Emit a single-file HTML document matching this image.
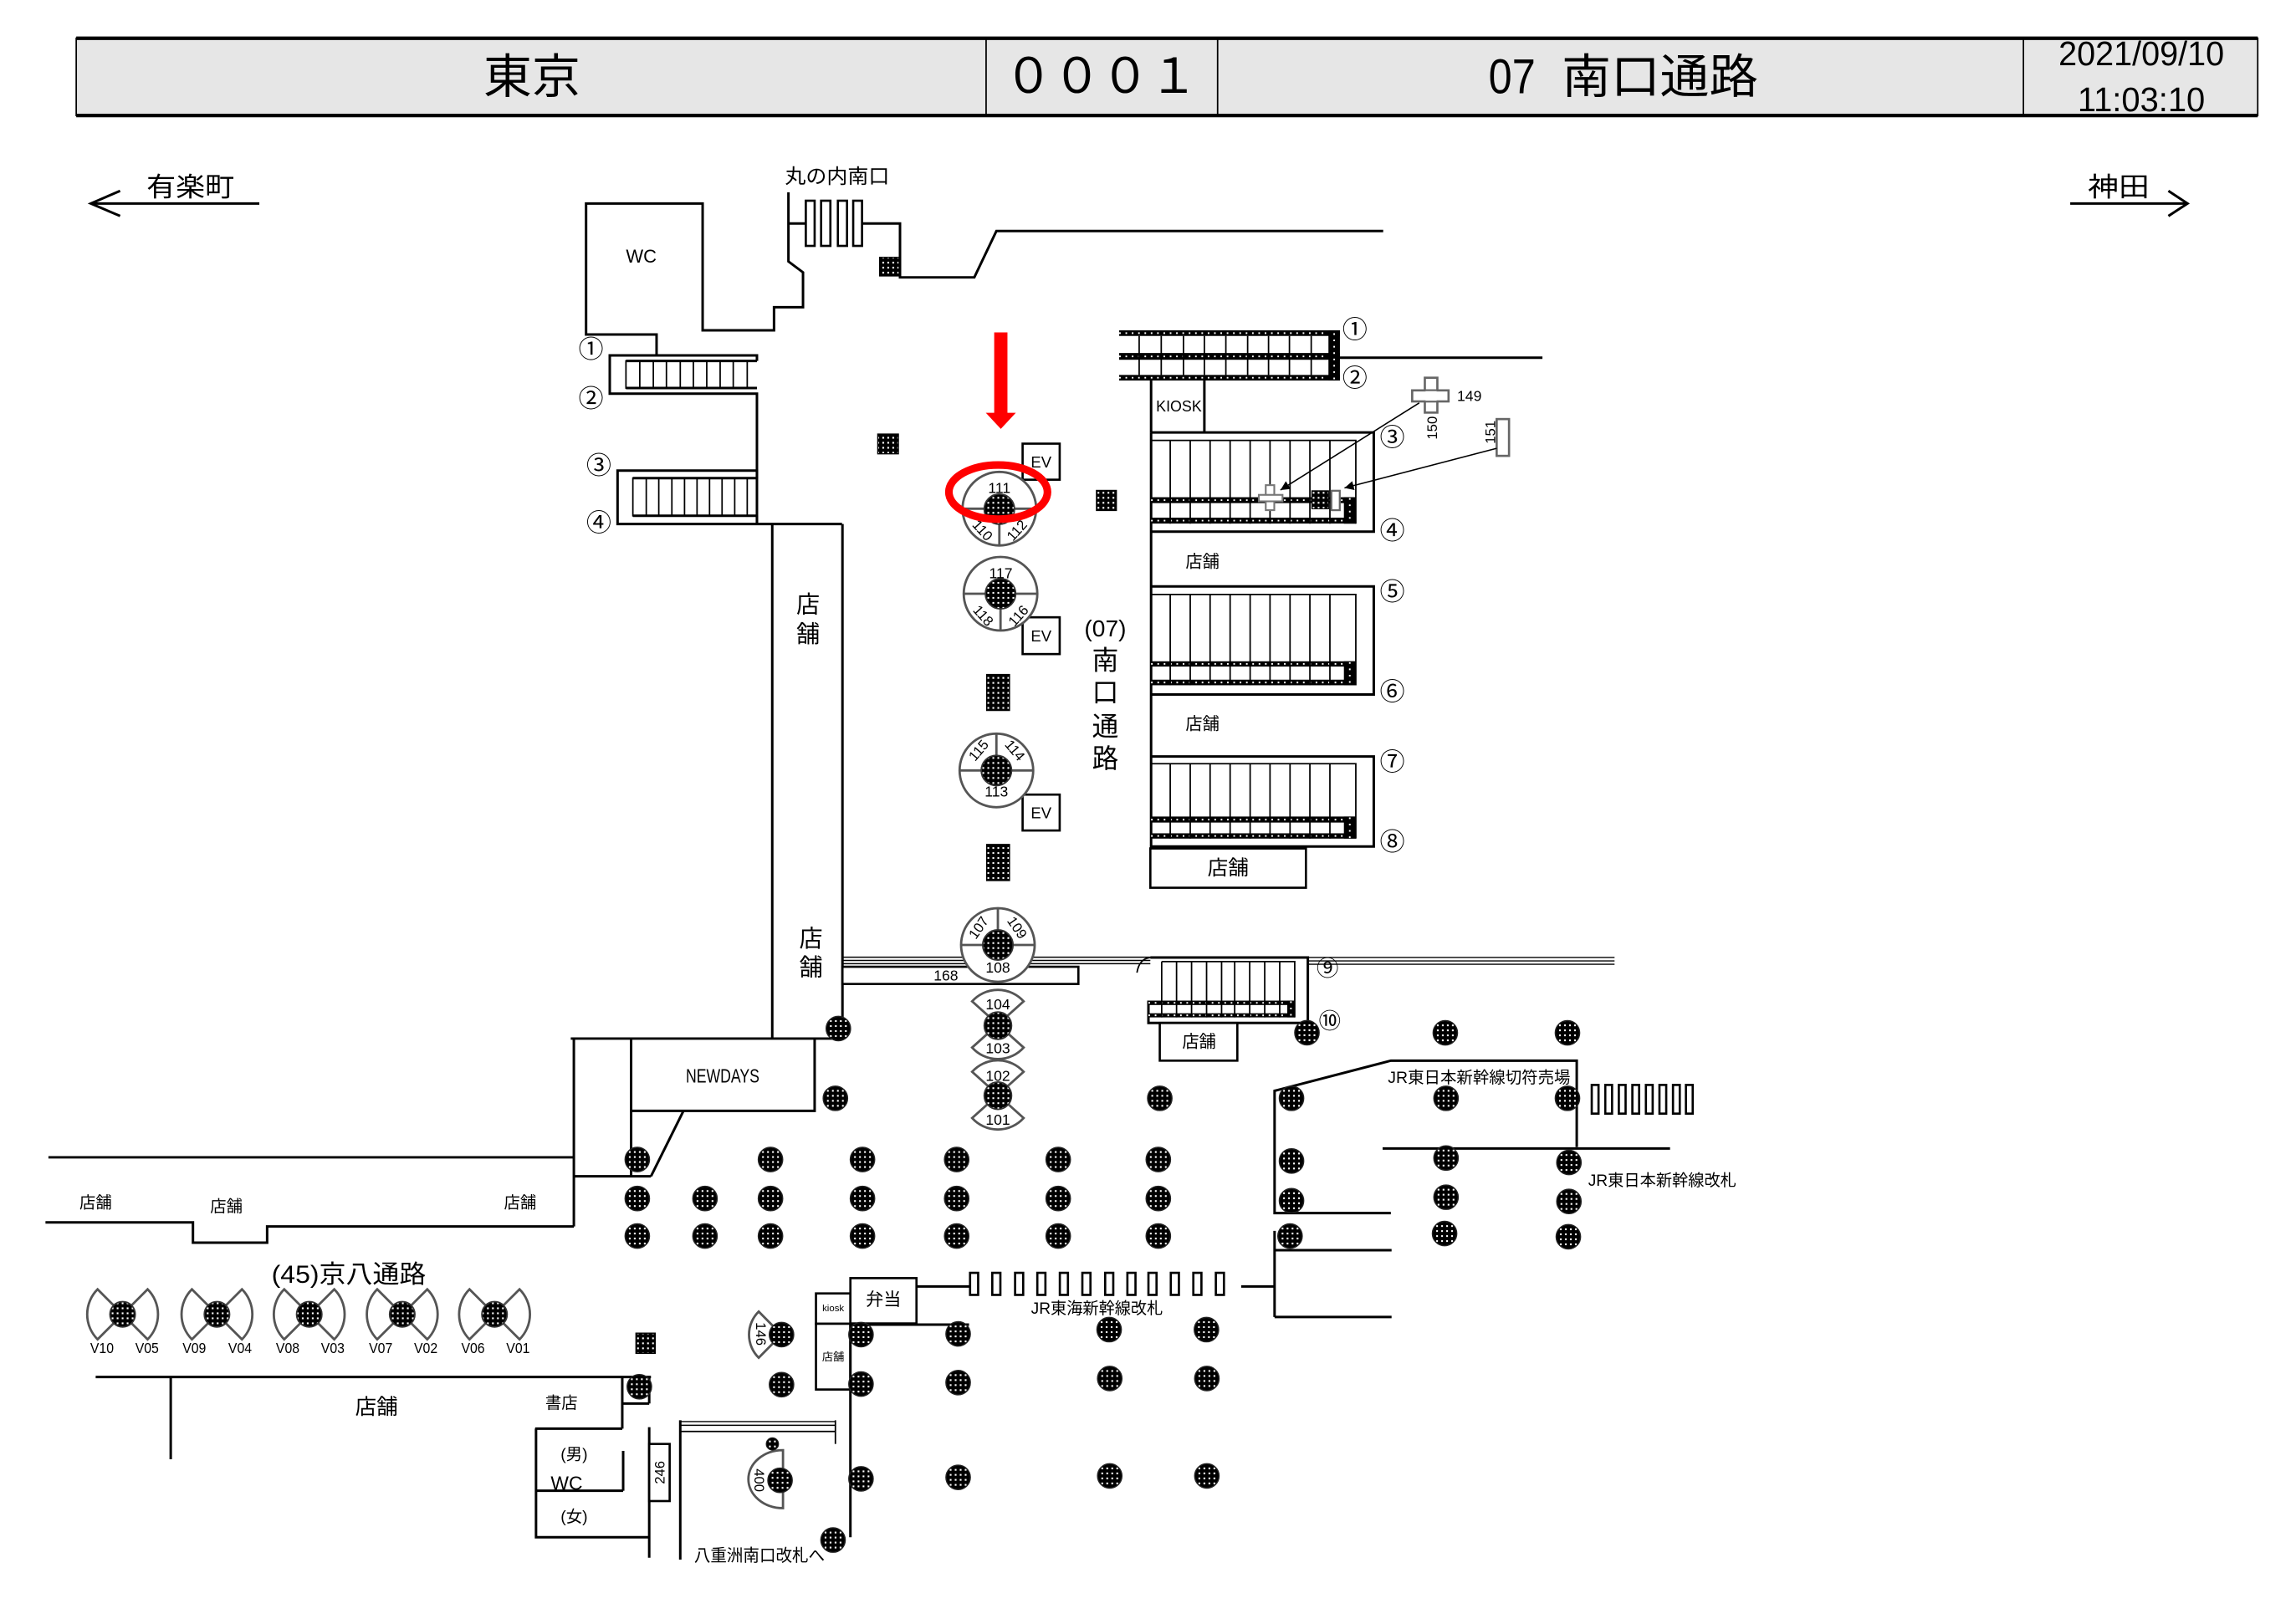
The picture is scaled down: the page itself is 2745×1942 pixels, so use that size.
<!DOCTYPE html>
<html><head><meta charset="utf-8"><style>
html,body{margin:0;padding:0;background:#fff;}
svg{display:block;}
.l{stroke:#000;stroke-width:1.7;fill:none;}
.t{stroke:#000;stroke-width:1;fill:none;}
.th{stroke:#000;stroke-width:0.8;fill:none;}
.g{stroke:#555;stroke-width:1.6;fill:#fff;}
.bx{stroke:#000;stroke-width:1.5;fill:#fff;}
text{font-family:"Liberation Sans","Noto Sans CJK JP",sans-serif;fill:#000;}
.c{text-anchor:middle;dominant-baseline:central;}
.band{fill:#000;}
.dots{stroke:#fff;stroke-width:1.1;stroke-dasharray:1.1 3.2;fill:none;}
</style></head><body>
<svg xmlns="http://www.w3.org/2000/svg" width="2745" height="1942" viewBox="0 0 1560 1103.65" preserveAspectRatio="none">
<defs>
<pattern id="dp" width="3.4" height="3.4" patternUnits="userSpaceOnUse"><rect width="3.4" height="3.4" fill="#000"/><rect x="1.1" y="1.1" width="1.2" height="1.2" fill="#fff"/></pattern>
<circle id="p" r="8.3" fill="url(#dp)" stroke="#222" stroke-width="0.8"/>
<circle id="ps" r="4.2" fill="url(#dp)" stroke="#222" stroke-width="0.6"/>
<marker id="ah" viewBox="0 0 10 10" refX="10" refY="5" markerWidth="7" markerHeight="7" orient="auto"><path d="M0,0 L10,5 L0,10z" fill="#000"/></marker>
</defs>
<rect width="1560" height="1103.65" fill="#fff"/>

<!-- HEADER -->
<rect x="51.8" y="26" width="1482.2" height="52.5" fill="#e6e6e6" stroke="#000" stroke-width="1"/>
<line x1="51.8" y1="26" x2="1534" y2="26" stroke="#000" stroke-width="2.4"/>
<line x1="51.8" y1="78.5" x2="1534" y2="78.5" stroke="#000" stroke-width="2.4"/>
<line x1="670" y1="26" x2="670" y2="78.5" stroke="#000" stroke-width="1"/>
<line x1="827.3" y1="26" x2="827.3" y2="78.5" stroke="#000" stroke-width="1"/>
<line x1="1374.8" y1="26" x2="1374.8" y2="78.5" stroke="#000" stroke-width="1"/>
<text x="361.4" y="52" class="c" font-size="32" textLength="66" lengthAdjust="spacingAndGlyphs">東京</text>
<text x="698.8" y="52" class="c" font-size="33">０</text>
<text x="731.7" y="52" class="c" font-size="33">０</text>
<text x="764.5" y="52" class="c" font-size="33">０</text>
<text x="797.4" y="52" class="c" font-size="33">１</text>
<text x="1011.4" y="63.5" font-size="33" textLength="31.9" lengthAdjust="spacingAndGlyphs">07</text>
<text x="1061.2" y="52" font-size="32" dominant-baseline="central" textLength="133.4" lengthAdjust="spacingAndGlyphs">南口通路</text>
<text x="1398.7" y="44.3" font-size="23" textLength="112.5" lengthAdjust="spacingAndGlyphs">2021/09/10</text>
<text x="1411.6" y="75.5" font-size="23" textLength="86.6" lengthAdjust="spacingAndGlyphs">11:03:10</text>

<!-- direction arrows -->
<polyline class="l" points="81.6,129.7 61.7,138.3 81.6,146.8"/>
<line class="l" x1="61.7" y1="138.3" x2="176.2" y2="138.3"/>
<text x="99.5" y="127" font-size="18" dominant-baseline="central" textLength="59.7" lengthAdjust="spacingAndGlyphs">有楽町</text>
<polyline class="l" points="1473.3,129.7 1486.3,138.3 1473.3,146.8"/>
<line class="l" x1="1406.6" y1="138.3" x2="1486.3" y2="138.3"/>
<text x="1418.6" y="127" font-size="18" dominant-baseline="central" textLength="41.8" lengthAdjust="spacingAndGlyphs">神田</text>

<!-- top left structures -->
<text x="568.8" y="120.3" class="c" font-size="13.5" textLength="71" lengthAdjust="spacingAndGlyphs">丸の内南口</text>
<polyline class="l" points="446.1,241.5 446.1,227.3 398.2,227.3 398.2,138.3 477.4,138.3 477.4,224.5 525.9,224.5 525.9,208.8 545.6,208.8 545.6,185.1 535.7,177.7 535.7,130.7"/>
<text x="435.7" y="174.3" class="c" font-size="12.5">WC</text>
<line class="l" x1="535.7" y1="151.9" x2="547.5" y2="151.9"/>
<rect class="bx" x="547.5" y="136.4" width="6" height="30.7"/>
<rect class="bx" x="557.9" y="136.4" width="6.3" height="30.7"/>
<rect class="bx" x="569.3" y="136.4" width="6.2" height="30.7"/>
<rect class="bx" x="579.7" y="136.4" width="6" height="30.7"/>
<polyline class="l" points="585.7,151.9 611.5,151.9 611.5,188.5 662,188.5 677,157 939.8,157"/>
<rect x="597.7" y="174.9" width="13.2" height="12.6" fill="url(#dp)" stroke="#000" stroke-width=".8"/>
<rect x="596.4" y="295" width="14" height="13.4" fill="url(#dp)" stroke="#000" stroke-width=".8"/>

<!-- left stairs 1-2 -->
<polyline class="l" points="514.3,245.3 514.3,241.5 414.3,241.5 414.3,267.5 514.3,267.5 514.3,356.1"/>
<line class="l" x1="425.3" y1="245.3" x2="514.3" y2="245.3"/>
<line class="l" x1="425.3" y1="263.7" x2="514.3" y2="263.7"/>
<rect class="t" x="425.3" y="245.3" width="82.4" height="18.4"/>
<path class="t" d="M434.7,245.3V263.7M443.9,245.3V263.7M452.8,245.3V263.7M462.2,245.3V263.7M471.1,245.3V263.7M480.2,245.3V263.7M489.3,245.3V263.7M498.2,245.3V263.7"/>
<!-- left stairs 3-4 -->
<polyline class="l" points="514.3,324.9 514.3,319.8 419.6,319.8 419.6,356.1 572.1,356.1"/>
<line class="l" x1="430" y1="324.9" x2="514.3" y2="324.9"/>
<line class="l" x1="430" y1="350.5" x2="514.3" y2="350.5"/>
<line class="l" x1="514.3" y1="350.5" x2="514.3" y2="356.1"/>
<rect class="t" x="430" y="324.9" width="77.7" height="25.6"/>
<path class="t" d="M439.1,324.9V350.5M447.6,324.9V350.5M456.5,324.9V350.5M465.1,324.9V350.5M473.6,324.9V350.5M482.1,324.9V350.5M490.6,324.9V350.5M499.2,324.9V350.5"/>
<text x="401.6" y="237.8" class="c" font-size="17">①</text>
<text x="401.6" y="271.5" class="c" font-size="17">②</text>
<text x="406.9" y="316.9" class="c" font-size="17">③</text>
<text x="406.9" y="355.8" class="c" font-size="17">④</text>

<!-- shop column -->
<line class="l" x1="524.7" y1="356.1" x2="524.7" y2="705.8"/>
<line class="l" x1="572.4" y1="356.1" x2="572.4" y2="705.8"/>
<text x="549" y="411" class="c" font-size="16">店</text>
<text x="549" y="431" class="c" font-size="16">舗</text>
<text x="551" y="638" class="c" font-size="16">店</text>
<text x="551" y="657.5" class="c" font-size="16">舗</text>

<!-- red arrow -->
<rect x="675.5" y="225.9" width="9" height="56" fill="#f00"/>
<polygon points="669.8,280.5 690.2,280.5 680,291.5" fill="#f00"/>

<!-- EV boxes -->
<rect class="bx" x="694.8" y="301.5" width="25.2" height="24.5"/>
<text x="707.4" y="314" class="c" font-size="10.5">EV</text>
<rect class="bx" x="694.8" y="419.5" width="25.2" height="25"/>
<text x="707.4" y="432.3" class="c" font-size="10.5">EV</text>
<rect class="bx" x="694.8" y="540" width="25.2" height="24.4"/>
<text x="707.4" y="552.5" class="c" font-size="10.5">EV</text>

<!-- circle pillar 111 -->
<circle class="g" cx="679" cy="345.7" r="25"/>
<line stroke="#555" stroke-width="1.6" x1="654" y1="345.7" x2="704" y2="345.7"/>
<line stroke="#555" stroke-width="1.6" x1="679" y1="345.7" x2="679" y2="370.7"/>
<circle cx="679" cy="346" r="10.3" fill="url(#dp)" stroke="#333" stroke-width="1"/>
<text x="679" y="331.5" class="c" font-size="10">111</text>
<text x="667.5" y="360.5" class="c" font-size="9.5" transform="rotate(48 667.5 360.5)">110</text>
<text x="691" y="360.5" class="c" font-size="9.5" transform="rotate(-48 691 360.5)">112</text>
<ellipse cx="678.2" cy="334.4" rx="33.5" ry="18.4" fill="none" stroke="#f00" stroke-width="5.2"/>

<!-- circle pillar 117 -->
<circle class="g" cx="679.8" cy="403.5" r="25"/>
<line stroke="#555" stroke-width="1.6" x1="654.8" y1="403.5" x2="704.8" y2="403.5"/>
<line stroke="#555" stroke-width="1.6" x1="679.8" y1="403.5" x2="679.8" y2="428.5"/>
<circle cx="679.8" cy="403.5" r="10.3" fill="url(#dp)" stroke="#333" stroke-width="1"/>
<text x="680" y="389.5" class="c" font-size="10">117</text>
<text x="668" y="418.5" class="c" font-size="9.5" transform="rotate(48 668 418.5)">118</text>
<text x="692" y="418.5" class="c" font-size="9.5" transform="rotate(-48 692 418.5)">116</text>

<!-- tall pillars -->
<rect x="670.4" y="458.4" width="15.5" height="24.4" fill="url(#dp)" stroke="#000" stroke-width=".8"/>
<rect x="670.4" y="573.9" width="15.5" height="24.5" fill="url(#dp)" stroke="#000" stroke-width=".8"/>
<rect x="745" y="333.3" width="13.5" height="13.6" fill="url(#dp)" stroke="#000" stroke-width=".8"/>

<!-- circle pillar 113 -->
<circle class="g" cx="677" cy="523.6" r="25"/>
<line stroke="#555" stroke-width="1.6" x1="652" y1="523.6" x2="702" y2="523.6"/>
<line stroke="#555" stroke-width="1.6" x1="677" y1="498.6" x2="677" y2="523.6"/>
<circle cx="677" cy="523.6" r="10.3" fill="url(#dp)" stroke="#333" stroke-width="1"/>
<text x="665" y="510" class="c" font-size="9.5" transform="rotate(-50 665 510)">115</text>
<text x="689.5" y="510" class="c" font-size="9.5" transform="rotate(50 689.5 510)">114</text>
<text x="677" y="538" class="c" font-size="10">113</text>

<!-- (07) 南口通路 -->
<text x="751" y="427.1" class="c" font-size="16">(07)</text>
<text x="751" y="448.8" class="c" font-size="18">南</text>
<text x="751" y="470.6" class="c" font-size="18">口</text>
<text x="751" y="493.7" class="c" font-size="18">通</text>
<text x="751" y="515.5" class="c" font-size="18">路</text>

<!-- right stairs 1-2 -->
<rect class="band" x="760.4" y="224.5" width="150" height="3.8"/>
<rect class="band" x="760.4" y="239.9" width="150" height="4.6"/>
<rect class="band" x="760.4" y="254.8" width="150" height="3.8"/>
<rect class="band" x="902.6" y="224.5" width="7.8" height="34.1"/>
<path class="dots" d="M760.4,226.4H902M760.4,242.2H902M760.4,256.7H902M906.5,226.5V258"/>
<path class="t" d="M774,228.3V254.8M789,228.3V254.8M804.1,228.3V254.8M818.3,228.3V254.8M832.9,228.3V254.8M847.7,228.3V254.8M861.9,228.3V254.8M876.1,228.3V254.8M890.9,228.3V254.8"/>
<line class="l" x1="910.4" y1="243.1" x2="1048" y2="243.1"/>
<text x="920.6" y="224.5" class="c" font-size="17">①</text>
<text x="920.6" y="257.5" class="c" font-size="17">②</text>
<line class="l" x1="782.1" y1="258.6" x2="782.1" y2="293.9"/>
<line class="l" x1="818.3" y1="258.6" x2="818.3" y2="293.9"/>
<text x="801" y="276" class="c" font-size="10.5" textLength="31" lengthAdjust="spacingAndGlyphs">KIOSK</text>

<!-- right stairs 3-4 -->
<line class="l" x1="782.1" y1="293.9" x2="782.1" y2="576.6"/>
<polyline class="l" points="782.1,293.9 933.4,293.9 933.4,361.3 782.1,361.3"/>
<polyline class="t" points="782.1,299.3 921.2,299.3 921.2,355.9"/>
<rect class="band" x="782.1" y="337.9" width="139" height="4"/>
<rect class="band" x="782.1" y="351.8" width="139" height="4"/>
<rect class="band" x="913.1" y="337.9" width="8.1" height="18"/>
<path class="dots" d="M782.1,339.9H913M782.1,353.8H913M917.1,338.5V355.5"/>
<path class="t" d="M795.1,299.3V355.9M808.7,299.3V355.9M822.2,299.3V355.9M835.8,299.3V355.9M849.4,299.3V355.9M862.9,299.3V355.9M876.5,299.3V355.9M890,299.3V355.9M903.6,299.3V355.9"/>
<text x="946" y="297.9" class="c" font-size="17">③</text>
<text x="946" y="361.3" class="c" font-size="17">④</text>

<!-- 149/150/151 -->
<rect x="968.1" y="256.7" width="8.5" height="23.7" fill="#fff" stroke="#666" stroke-width="1.5"/>
<rect x="959.5" y="265.3" width="24.7" height="7.5" fill="#fff" stroke="#666" stroke-width="1.5"/>
<rect x="968.6" y="265.8" width="7.5" height="6.5" fill="#fff"/>
<text x="990" y="269" font-size="10" dominant-baseline="central">149</text>
<text x="973.2" y="290.8" class="c" font-size="9.5" transform="rotate(-90 973.2 290.8)">150</text>
<rect x="1016.9" y="284.8" width="8.4" height="25" fill="#fff" stroke="#666" stroke-width="1.5"/>
<text x="1012.6" y="293.7" class="c" font-size="9.5" transform="rotate(-90 1012.6 293.7)">151</text>
<rect x="891.3" y="333.5" width="11.4" height="12.3" fill="url(#dp)" stroke="#000" stroke-width=".6"/>
<rect x="904.6" y="333.5" width="5.7" height="13.2" fill="#fff" stroke="#666" stroke-width="1.3"/>
<rect x="860" y="329.7" width="5.8" height="17" fill="#fff" stroke="#777" stroke-width="1.2"/>
<rect x="855.3" y="336.3" width="16.1" height="4.4" fill="#fff" stroke="#777" stroke-width="1.2"/>
<line x1="964.3" y1="273.8" x2="870" y2="333" stroke="#000" stroke-width="0.9" marker-end="url(#ah)"/>
<line x1="1016.9" y1="304.7" x2="913.5" y2="331.6" stroke="#000" stroke-width="0.9" marker-end="url(#ah)"/>

<!-- shop between -->
<text x="817" y="382.2" class="c" font-size="11.5">店舗</text>

<!-- right stairs 5-6 -->
<polyline class="l" points="782.1,398.5 933.4,398.5 933.4,472 782.1,472"/>
<polyline class="t" points="782.1,404 921.2,404 921.2,465.7"/>
<rect class="band" x="782.1" y="449.4" width="139" height="3.6"/>
<rect class="band" x="782.1" y="461.9" width="139" height="3.8"/>
<rect class="band" x="913.1" y="449.4" width="8.1" height="16.3"/>
<path class="dots" d="M782.1,451.2H913M782.1,463.8H913M917.1,450V465"/>
<path class="t" d="M795.1,404V465.7M808.7,404V465.7M822.2,404V465.7M835.8,404V465.7M849.4,404V465.7M862.9,404V465.7M876.5,404V465.7M890,404V465.7M903.6,404V465.7"/>
<text x="946" y="402.6" class="c" font-size="17">⑤</text>
<text x="946" y="470.6" class="c" font-size="17">⑥</text>
<text x="817" y="492.4" class="c" font-size="11.5">店舗</text>

<!-- right stairs 7-8 -->
<polyline class="l" points="782.1,514.1 933.4,514.1 933.4,575.3 782.1,575.3"/>
<polyline class="t" points="782.1,519 921.2,519 921.2,569.9"/>
<rect class="band" x="782.1" y="554.9" width="139" height="4.1"/>
<rect class="band" x="782.1" y="566.3" width="139" height="3.6"/>
<rect class="band" x="913.1" y="554.9" width="8.1" height="15"/>
<path class="dots" d="M782.1,557H913M782.1,568.1H913M917.1,555.5V569.5"/>
<path class="t" d="M795.1,519V569.9M808.7,519V569.9M822.2,519V569.9M835.8,519V569.9M849.4,519V569.9M862.9,519V569.9M876.5,519V569.9M890,519V569.9M903.6,519V569.9"/>
<text x="946" y="518.2" class="c" font-size="17">⑦</text>
<text x="946" y="572.6" class="c" font-size="17">⑧</text>
<rect class="bx" x="781.6" y="576.6" width="105.7" height="26.7"/>
<text x="834.4" y="590.2" class="c" font-size="14">店舗</text>

<!-- corridor -->
<path class="th" d="M572.4,650.5H781.6M572.4,652.7H781.6M572.4,654.9H781.6"/>
<path class="th" d="M888.6,650.7H1097M888.6,653H1097M888.6,655.3H1097"/>
<rect class="bx" x="572.4" y="657" width="160.3" height="11.7"/>
<text x="642.7" y="663" class="c" font-size="10">168</text>
<path class="t" d="M772.5,661 Q774,651.5 781.6,650.7"/>

<!-- circle pillar 107 -->
<circle class="g" cx="678" cy="642.2" r="25"/>
<line stroke="#555" stroke-width="1.6" x1="653" y1="642.2" x2="703" y2="642.2"/>
<line stroke="#555" stroke-width="1.6" x1="678" y1="617.2" x2="678" y2="642.2"/>
<circle cx="678" cy="642.2" r="10.3" fill="url(#dp)" stroke="#333" stroke-width="1"/>
<text x="665" y="630.5" class="c" font-size="9.5" transform="rotate(-55 665 630.5)">107</text>
<text x="691" y="630.5" class="c" font-size="9.5" transform="rotate(55 691 630.5)">109</text>
<text x="678" y="657.5" class="c" font-size="10">108</text>

<!-- stairs 9-10 -->
<polyline class="l" points="781.6,650.7 888.6,650.7 888.6,695.2 780.3,695.2 780.3,680"/>
<polyline class="t" points="789.3,653.5 879.7,653.5 879.7,691.4"/>
<rect class="band" x="780.3" y="680" width="99.4" height="3"/>
<rect class="band" x="780.3" y="688.6" width="99.4" height="2.8"/>
<rect class="band" x="874.6" y="680" width="5.1" height="11.4"/>
<path class="dots" d="M780.3,681.5H874M780.3,690H874M877.1,680.5V691"/>
<path class="t" d="M789.3,653.5V691.4M799.4,653.5V691.4M809.6,653.5V691.4M819.8,653.5V691.4M830,653.5V691.4M838.9,653.5V691.4M849.1,653.5V691.4M859.3,653.5V691.4M869.5,653.5V691.4"/>
<text x="902" y="658" class="c" font-size="15">⑨</text>
<text x="903.5" y="694" class="c" font-size="15">⑩</text>
<rect class="bx" x="788" y="695.2" width="52.7" height="25.6"/>
<text x="814.7" y="708.5" class="c" font-size="11.5">店舗</text>

<!-- fans 104/103/102/101 -->
<path class="g" d="M678,696.2 L660.5,680.5 A23.5,23.5 0 0 1 695.5,680.5 Z"/>
<path class="g" d="M678,696.2 L660.5,711.9 A23.5,23.5 0 0 0 695.5,711.9 Z"/>
<path class="g" d="M678,744.1 L660.5,728.4 A23.5,23.5 0 0 1 695.5,728.4 Z"/>
<path class="g" d="M678,744.1 L660.5,759.8 A23.5,23.5 0 0 0 695.5,759.8 Z"/>
<circle cx="678" cy="697" r="9.3" fill="url(#dp)" stroke="#333" stroke-width="1"/>
<circle cx="678" cy="744.6" r="9.3" fill="url(#dp)" stroke="#333" stroke-width="1"/>
<text x="678" y="682.5" class="c" font-size="10">104</text>
<text x="678" y="712.5" class="c" font-size="10">103</text>
<text x="678" y="731" class="c" font-size="10">102</text>
<text x="678" y="761" class="c" font-size="10">101</text>

<!-- NEWDAYS & left lower structures -->
<line class="l" x1="387.8" y1="705.8" x2="572.4" y2="705.8"/>
<line class="l" x1="389.9" y1="705.8" x2="389.9" y2="833.5"/>
<line class="l" x1="428.8" y1="705.8" x2="428.8" y2="799.4"/>
<polyline class="l" points="553.5,705.8 553.5,754.9 428.8,754.9"/>
<text x="491" y="731" class="c" font-size="13" textLength="50" lengthAdjust="spacingAndGlyphs">NEWDAYS</text>
<line class="l" x1="389.9" y1="799.4" x2="442.3" y2="799.4"/>
<line class="l" x1="464.4" y1="754.9" x2="442.3" y2="799.4"/>
<line class="l" x1="32.9" y1="786.5" x2="389.9" y2="786.5"/>
<polyline class="l" points="30.9,830.7 131.1,830.7 131.1,844.5 181.5,844.5 181.5,833.5 389.9,833.5"/>
<text x="65" y="817.5" class="c" font-size="11">店舗</text>
<text x="153.8" y="820" class="c" font-size="11">店舗</text>
<text x="353.4" y="817.5" class="c" font-size="11">店舗</text>
<text x="237" y="866.5" class="c" font-size="17" textLength="105" lengthAdjust="spacingAndGlyphs">(45)京八通路</text>

<!-- V bowties -->
<g class="g">
<path d="M83.3,893.2 L66.3,876.2 A24,24 0 0 0 66.3,910.2 Z"/><path d="M83.3,893.2 L100.3,876.2 A24,24 0 0 1 100.3,910.2 Z"/>
<path d="M147.4,893.2 L130.4,876.2 A24,24 0 0 0 130.4,910.2 Z"/><path d="M147.4,893.2 L164.4,876.2 A24,24 0 0 1 164.4,910.2 Z"/>
<path d="M210.1,893.2 L193.1,876.2 A24,24 0 0 0 193.1,910.2 Z"/><path d="M210.1,893.2 L227.1,876.2 A24,24 0 0 1 227.1,910.2 Z"/>
<path d="M273.3,893.2 L256.3,876.2 A24,24 0 0 0 256.3,910.2 Z"/><path d="M273.3,893.2 L290.3,876.2 A24,24 0 0 1 290.3,910.2 Z"/>
<path d="M336,893.2 L319,876.2 A24,24 0 0 0 319,910.2 Z"/><path d="M336,893.2 L353,876.2 A24,24 0 0 1 353,910.2 Z"/>
</g>
<circle cx="83.3" cy="893.2" r="8.6" fill="url(#dp)" stroke="#333" stroke-width="1"/>
<circle cx="147.4" cy="893.2" r="8.6" fill="url(#dp)" stroke="#333" stroke-width="1"/>
<circle cx="210.1" cy="893.2" r="8.6" fill="url(#dp)" stroke="#333" stroke-width="1"/>
<circle cx="273.3" cy="893.2" r="8.6" fill="url(#dp)" stroke="#333" stroke-width="1"/>
<circle cx="336" cy="893.2" r="8.6" fill="url(#dp)" stroke="#333" stroke-width="1"/>
<g font-size="10">
<text x="69.3" y="916" class="c" textLength="16" lengthAdjust="spacingAndGlyphs">V10</text>
<text x="99.9" y="916" class="c" textLength="16" lengthAdjust="spacingAndGlyphs">V05</text>
<text x="132" y="916" class="c" textLength="16" lengthAdjust="spacingAndGlyphs">V09</text>
<text x="163.1" y="916" class="c" textLength="16" lengthAdjust="spacingAndGlyphs">V04</text>
<text x="195.5" y="916" class="c" textLength="16" lengthAdjust="spacingAndGlyphs">V08</text>
<text x="226.1" y="916" class="c" textLength="16" lengthAdjust="spacingAndGlyphs">V03</text>
<text x="258.7" y="916" class="c" textLength="16" lengthAdjust="spacingAndGlyphs">V07</text>
<text x="289.3" y="916" class="c" textLength="16" lengthAdjust="spacingAndGlyphs">V02</text>
<text x="321.4" y="916" class="c" textLength="16" lengthAdjust="spacingAndGlyphs">V06</text>
<text x="352" y="916" class="c" textLength="16" lengthAdjust="spacingAndGlyphs">V01</text>
</g>
<rect x="432.1" y="906" width="13.1" height="13.7" fill="url(#dp)" stroke="#000" stroke-width=".8"/>

<!-- bottom left shops / WC -->
<line class="l" x1="65" y1="935.8" x2="442.3" y2="935.8"/>
<line class="l" x1="116" y1="935.8" x2="116" y2="991.7"/>
<text x="255.8" y="956.5" class="c" font-size="14.5">店舗</text>
<line class="l" x1="422.8" y1="935.8" x2="422.8" y2="970.9"/>
<line class="l" x1="363.6" y1="970.9" x2="422.8" y2="970.9"/>
<line class="l" x1="441.1" y1="935.8" x2="441.1" y2="953.8"/>
<line class="l" x1="422.8" y1="953.8" x2="441.1" y2="953.8"/>
<text x="381.5" y="953.5" class="c" font-size="11">書店</text>
<polyline class="l" points="364.2,970.9 364.2,1044.7 441.1,1044.7"/>
<line class="l" x1="364.2" y1="1013.1" x2="423.4" y2="1013.1"/>
<line class="l" x1="423.4" y1="986" x2="423.4" y2="1013.1"/>
<line class="l" x1="441.1" y1="969.9" x2="441.1" y2="1058.6"/>
<text x="390.1" y="988.5" class="c" font-size="11">(男)</text>
<text x="385" y="1008" class="c" font-size="13">WC</text>
<text x="390.1" y="1031" class="c" font-size="11">(女)</text>
<rect class="bx" x="441.1" y="981.3" width="13.9" height="38.8"/>
<text x="448.3" y="1000.7" class="c" font-size="9.5" transform="rotate(-90 448.3 1000.7)">246</text>
<line class="l" x1="462.2" y1="965.2" x2="462.2" y2="1059.9"/>
<path class="th" d="M462.2,966.1H567.6M462.2,968.6H567.6"/>
<line class="t" x1="462.2" y1="972.8" x2="567.6" y2="972.8"/>
<line class="t" x1="567.6" y1="965.2" x2="567.6" y2="981.3"/>
<path class="g" d="M532,985.5 A23.5,19.7 0 0 0 532,1024.9 Z"/>
<text x="515.6" y="1006" class="c" font-size="9.5" transform="rotate(90 515.6 1006)">400</text>
<path class="g" d="M531,907 L515.5,891.3 A22,22 0 0 0 515.5,922.7 Z"/>
<text x="517" y="906.5" class="c" font-size="9.5" transform="rotate(90 517 906.5)">146</text>
<text x="516" y="1057.5" class="c" font-size="11.5" textLength="88.8" lengthAdjust="spacingAndGlyphs">八重洲南口改札へ</text>

<!-- kiosk / 弁当 / JR東海 -->
<rect class="bx" x="554.4" y="879" width="23.4" height="20.6"/>
<text x="566.1" y="889.4" class="c" font-size="6.5">kiosk</text>
<rect class="bx" x="577.8" y="868.6" width="44.9" height="30.8"/>
<text x="600.3" y="883.5" class="c" font-size="12">弁当</text>
<rect class="bx" x="554.4" y="899.6" width="23.4" height="44.7"/>
<text x="566.1" y="922.2" class="c" font-size="7.5">店舗</text>
<line class="l" x1="577.8" y1="899.6" x2="577.8" y2="1044.7"/>
<line class="l" x1="577.8" y1="900.2" x2="658.4" y2="900.2"/>
<line class="l" x1="622.7" y1="874.3" x2="659" y2="874.3"/>
<g class="bx" stroke-width="1.3">
<rect x="659.1" y="865" width="5.5" height="15"/><rect x="674.2" y="865" width="5.5" height="15"/><rect x="689.7" y="865" width="5.5" height="15"/><rect x="704.8" y="865" width="5.5" height="15"/><rect x="720.1" y="865" width="5.5" height="15"/><rect x="735.4" y="865" width="5.5" height="15"/><rect x="750.9" y="865" width="5.5" height="15"/><rect x="766" y="865" width="5.5" height="15"/><rect x="780.3" y="865" width="5.5" height="15"/><rect x="795.5" y="865" width="5.5" height="15"/><rect x="810.8" y="865" width="5.5" height="15"/><rect x="826.1" y="865" width="5.5" height="15"/>
</g>
<text x="745.3" y="889.5" class="c" font-size="11" textLength="89.6" lengthAdjust="spacingAndGlyphs">JR東海新幹線改札</text>
<line class="l" x1="843.3" y1="874.3" x2="866" y2="874.3"/>
<line class="l" x1="866" y1="836.5" x2="866" y2="895"/>
<line class="l" x1="866" y1="849.6" x2="945.5" y2="849.6"/>
<line class="l" x1="866" y1="895" x2="945.5" y2="895"/>

<!-- JR東日本 ticket office -->
<polyline class="l" points="945,824.4 866,824.4 866,741.3 945,720.8 1071.3,720.8 1071.3,779.5"/>
<line class="l" x1="939.4" y1="780.5" x2="1134.7" y2="780.5"/>
<text x="1005" y="732.5" class="c" font-size="11" textLength="124" lengthAdjust="spacingAndGlyphs">JR東日本新幹線切符売場</text>
<g class="bx" stroke-width="1.3">
<rect x="1081.5" y="737.3" width="4.6" height="19.5"/><rect x="1090.7" y="737.3" width="4.6" height="19.5"/><rect x="1099.9" y="737.3" width="4.6" height="19.5"/><rect x="1109.1" y="737.3" width="4.6" height="19.5"/><rect x="1118.3" y="737.3" width="4.6" height="19.5"/><rect x="1127.5" y="737.3" width="4.6" height="19.5"/><rect x="1136.7" y="737.3" width="4.6" height="19.5"/><rect x="1145.5" y="737.3" width="4.6" height="19.5"/>
</g>
<text x="1129.4" y="802.5" class="c" font-size="11" textLength="100.7" lengthAdjust="spacingAndGlyphs">JR東日本新幹線改札</text>

<!-- pillars -->
<use href="#p" x="569.6" y="699"/>
<use href="#p" x="888" y="701.8"/>
<use href="#p" x="982" y="701.9"/>
<use href="#p" x="1065" y="701.9"/>
<use href="#p" x="567.6" y="746.4"/>
<use href="#p" x="788" y="746.4"/>
<use href="#p" x="877.5" y="746.4"/>
<use href="#p" x="982.5" y="746.4"/>
<use href="#p" x="1065" y="746.4"/>

<use href="#p" x="433" y="788"/><use href="#p" x="523.5" y="788"/><use href="#p" x="586" y="788"/><use href="#p" x="650" y="788"/><use href="#p" x="719" y="788"/><use href="#p" x="787" y="788"/><use href="#p" x="877.5" y="789"/><use href="#p" x="982.5" y="787"/><use href="#p" x="1066" y="790"/>

<use href="#p" x="433" y="814.5"/><use href="#p" x="479" y="814.5"/><use href="#p" x="523.5" y="814.5"/><use href="#p" x="586" y="814.5"/><use href="#p" x="650" y="814.5"/><use href="#p" x="719" y="814.5"/><use href="#p" x="787" y="814.5"/><use href="#p" x="877.5" y="816"/><use href="#p" x="982.5" y="813.6"/><use href="#p" x="1066" y="816.5"/>

<use href="#p" x="433" y="840"/><use href="#p" x="479" y="840"/><use href="#p" x="523.5" y="840"/><use href="#p" x="586" y="840"/><use href="#p" x="650" y="840"/><use href="#p" x="719" y="840"/><use href="#p" x="787" y="840"/><use href="#p" x="876.5" y="840"/><use href="#p" x="981.5" y="838.3"/><use href="#p" x="1065.6" y="840.5"/>

<use href="#p" x="531" y="907"/><use href="#p" x="585" y="907"/><use href="#p" x="651" y="906.5"/><use href="#p" x="753.6" y="903.6"/><use href="#p" x="819.7" y="903.6"/>
<use href="#p" x="531" y="941"/><use href="#p" x="585" y="940.6"/><use href="#p" x="651" y="939.6"/><use href="#p" x="754" y="936.8"/><use href="#p" x="820" y="936.8"/>
<use href="#p" x="585" y="1005"/><use href="#p" x="651" y="1004"/><use href="#p" x="754" y="1003"/><use href="#p" x="820" y="1003"/>
<use href="#p" x="566" y="1046.6"/>
<use href="#p" x="434.4" y="942.4"/>
<use href="#p" x="530" y="1006"/>
<use href="#ps" x="524.8" y="981.3"/>
</svg>
</body></html>
